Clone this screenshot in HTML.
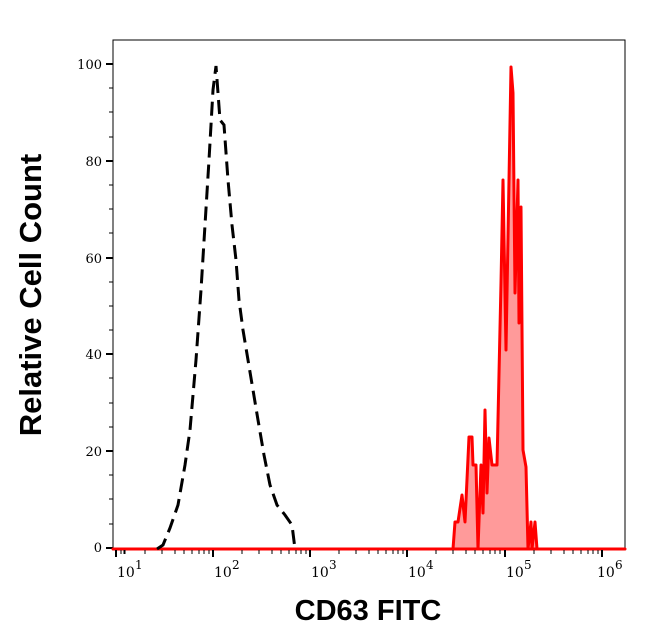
<!DOCTYPE html>
<html><head><style>
body{margin:0;background:#fff;}
svg{display:block;font-family:"DejaVu Serif","Liberation Serif",serif;}
</style></head><body>
<svg width="646" height="641" viewBox="0 0 646 641">
<rect x="113" y="40" width="512" height="510" fill="none" stroke="#000" stroke-width="1"/>
<g stroke="#000" stroke-width="2">
<line x1="106" y1="64" x2="113" y2="64"/><line x1="106" y1="161" x2="113" y2="161"/>
<line x1="106" y1="258" x2="113" y2="258"/><line x1="106" y1="354" x2="113" y2="354"/>
<line x1="106" y1="451" x2="113" y2="451"/><line x1="106" y1="548" x2="113" y2="548"/>
</g>
<g stroke="#000" stroke-width="1">
<line x1="109" y1="88" x2="113" y2="88"/><line x1="109" y1="112" x2="113" y2="112"/><line x1="109" y1="137" x2="113" y2="137"/>
<line x1="109" y1="185" x2="113" y2="185"/><line x1="109" y1="209" x2="113" y2="209"/><line x1="109" y1="233" x2="113" y2="233"/>
<line x1="109" y1="282" x2="113" y2="282"/><line x1="109" y1="306" x2="113" y2="306"/><line x1="109" y1="330" x2="113" y2="330"/>
<line x1="109" y1="378" x2="113" y2="378"/><line x1="109" y1="403" x2="113" y2="403"/><line x1="109" y1="427" x2="113" y2="427"/>
<line x1="109" y1="475" x2="113" y2="475"/><line x1="109" y1="499" x2="113" y2="499"/><line x1="109" y1="524" x2="113" y2="524"/>
</g>
<g font-size="13" text-anchor="end" fill="#000">
<text x="102" y="69">100</text><text x="102" y="166">80</text><text x="102" y="263">60</text>
<text x="102" y="359">40</text><text x="102" y="456">20</text><text x="102" y="552">0</text>
</g>
<g font-size="14" fill="#000">
<text x="117" y="577">10</text><text x="135" y="569" font-size="12">1</text>
<text x="214" y="577">10</text><text x="232" y="569" font-size="12">2</text>
<text x="311" y="577">10</text><text x="329" y="569" font-size="12">3</text>
<text x="408" y="577">10</text><text x="426" y="569" font-size="12">4</text>
<text x="506" y="577">10</text><text x="524" y="569" font-size="12">5</text>
<text x="597" y="577">10</text><text x="615" y="569" font-size="12">6</text>
</g>
<path d="M113,549 L453,549 L455,522 L458,522 L462,495 L465,522 L469,437 L472,437 L473,465 L476,465 L478,549 L481,465 L483,513 L485,410 L487,493 L489,438 L492,465 L497,465 L501,283 L503,180 L506,350 L508,237 L511,67 L513,93 L515,293 L518,180 L519,323 L521,207 L523,450 L526,467 L528,549 L531,522 L532,549 L535,522 L537,549 L625,549 Z" fill="#ff9a9a" stroke="#ff0000" stroke-width="3" stroke-linejoin="round"/>
<path d="M157,549 L163,545 L170,528 L178,505 L185,465 L190,430 L196,360 L201,290 L205,225 L209,160 L213,90 L216,66 L220,120 L224,125 L228,180 L232,225 L236,260 L239,300 L243,330 L248,360 L253,390 L258,420 L264,455 L270,485 L277,505 L285,515 L292,525 L295,549" fill="none" stroke="#000" stroke-width="3" stroke-dasharray="14,7"/>
<g stroke="#000" stroke-width="2">
<line x1="116" y1="550" x2="116" y2="557"/><line x1="213" y1="550" x2="213" y2="557"/>
<line x1="310" y1="550" x2="310" y2="557"/><line x1="407" y1="550" x2="407" y2="557"/>
<line x1="505" y1="550" x2="505" y2="557"/><line x1="602" y1="550" x2="602" y2="557"/>
</g>
<g stroke="#000" stroke-width="1" id="minor">
<path d="M145,550v4M162,550v4M175,550v4M184,550v4M192,550v4M199,550v4M204,550v4M209,550v4
M242,550v4M259,550v4M272,550v4M281,550v4M289,550v4M296,550v4M301,550v4M306,550v4
M339,550v4M356,550v4M369,550v4M378,550v4M386,550v4M393,550v4M398,550v4M403,550v4
M436,550v4M453,550v4M466,550v4M475,550v4M483,550v4M490,550v4M495,550v4M500,550v4
M534,550v4M551,550v4M564,550v4M573,550v4M581,550v4M588,550v4M593,550v4M598,550v4
M121,550v4M124,550v4M125,550v4"/>
</g>
<text x="368" y="620" font-family="Liberation Sans,sans-serif" font-weight="bold" font-size="29" text-anchor="middle">CD63 FITC</text>
<text transform="translate(41,295) rotate(-90)" font-family="Liberation Sans,sans-serif" font-weight="bold" font-size="31" text-anchor="middle">Relative Cell Count</text>
</svg>
</body></html>
